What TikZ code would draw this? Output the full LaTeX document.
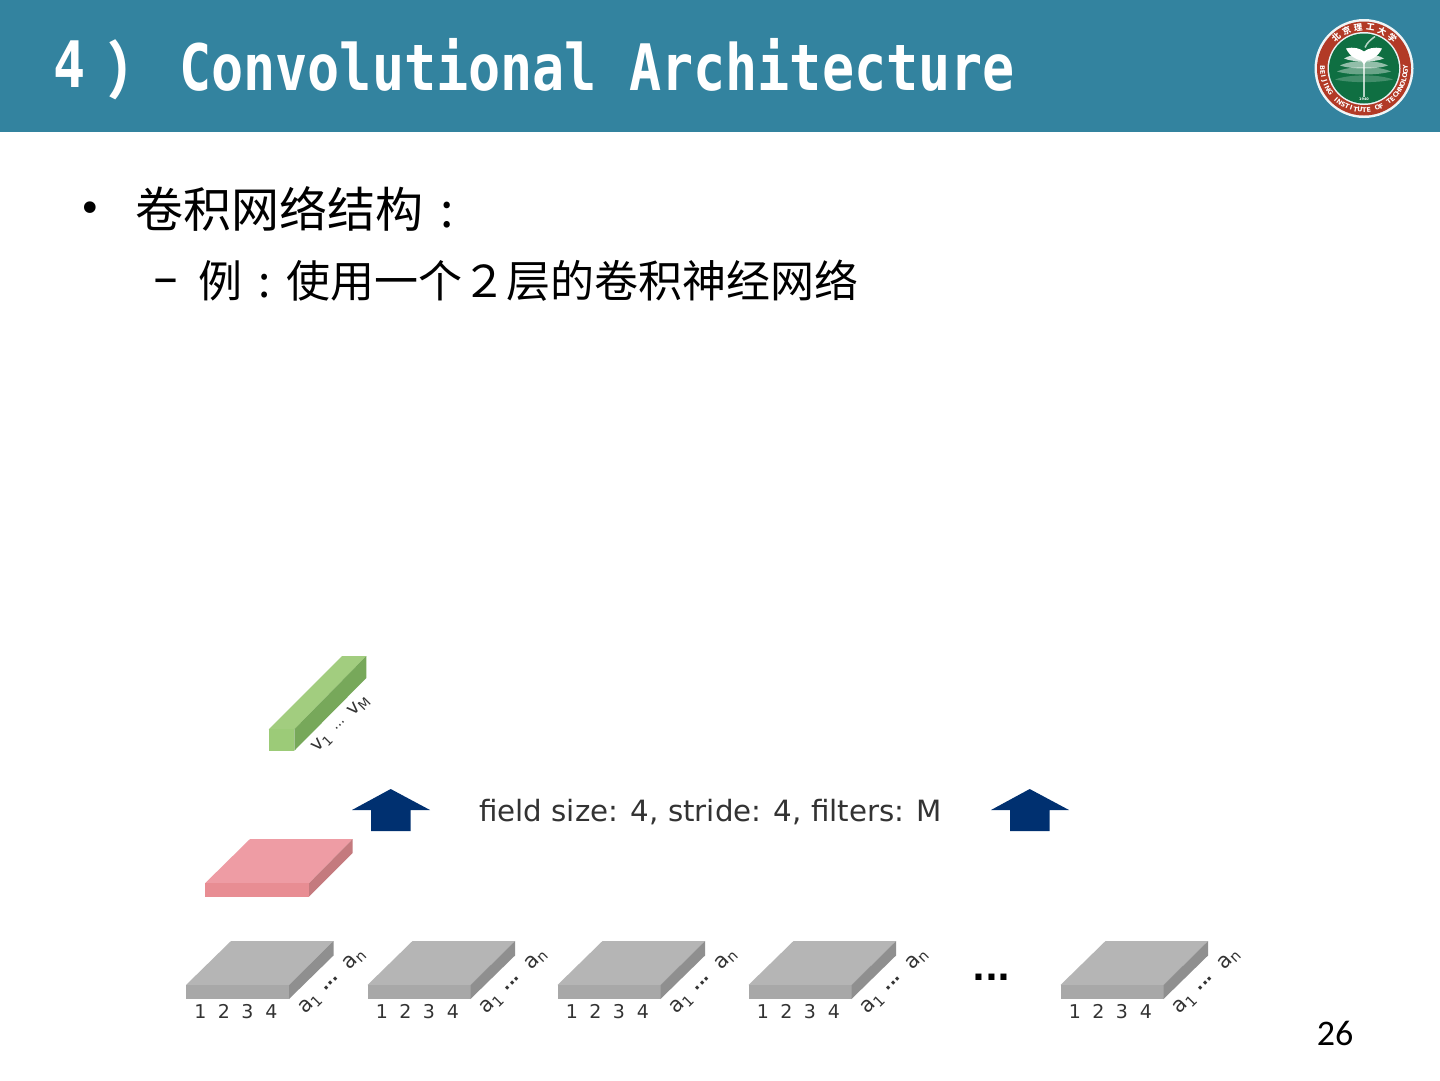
\documentclass[tikz,border=0pt]{standalone}
\usepackage{fontspec}
\setmainfont{DejaVu Sans}
\newfontfamily\cjksc{Noto Sans CJK SC}
\newfontfamily\monob{DejaVu Sans Mono}[BoldFont={DejaVu Sans Mono Bold}]
\newfontfamily\calib{Carlito}
\definecolor{bar}{HTML}{33839F}
\definecolor{navy}{HTML}{003070}
\definecolor{labelink}{HTML}{333333}
\definecolor{logored}{HTML}{B23A26}
\definecolor{logogreen}{HTML}{0F6F42}
\newcommand{\halfcolon}[1]{\makebox[#1]{\cjksc :}}
\tikzset{
 x=1pt,y=-1pt,
 lbl/.style={font=\fontsize{19}{19}\selectfont,text=labelink,inner sep=0pt},
 slant/.style={font=\fontsize{21}{21}\selectfont,text=labelink,inner sep=0pt,rotate=45},
 slantv/.style={font=\fontsize{19}{19}\selectfont,text=labelink,inner sep=0pt,rotate=45},
 slantdots/.style={font=\bfseries\fontsize{17}{17}\selectfont,text=labelink,inner sep=0pt,rotate=45},
 slantdotsv/.style={font=\fontsize{14}{14}\selectfont,text=labelink,inner sep=0pt,rotate=45},
 titletext/.style={inner sep=0pt,text=white,transform shape,yscale=1.2},
 upperarrow/.style={fill=navy,draw=none},
 layerblock/.pic={
  \fill[fill=gray!58!white] (0,0)--(45,-44)--(147.5,-44)--(103,0)--cycle;
  \fill[fill=gray!68!white] (0,0) rectangle (103,14);
  \fill[fill=gray!88!white] (103,0)--(147.5,-44)--(147.5,-29.5)--(103,14)--cycle;
  \node[lbl] (-n1) at (14.5,26.5) {1};
  \node[lbl] (-n2) at (38,26.5) {2};
  \node[lbl] (-n3) at (61.5,26.5) {3};
  \node[lbl] (-n4) at (85.5,26.5) {4};
  \node[slant] (-a1) at (124.5,19) {a\textsubscript{1}};
  \node[slantdots] (-dots) at (145,-1.5) {...};
  \node[slant] (-an) at (168.5,-25.5) {a\textsubscript{n}};
 }
}
\begin{document}
\begin{tikzpicture}
\useasboundingbox (0,0) rectangle (1440,1080);
\fill[white] (0,0) rectangle (1440,1080);
\fill[bar] (0,0) rectangle (1440,131.5);
\node[titletext,anchor=west,font=\monob\bfseries\fontsize{53.4}{53}\selectfont] (num) at (53,64.5) {4};
\node[titletext,font=\cjksc\bfseries\fontsize{52}{52}\selectfont] (paren) at (133,70) {）};
\node[titletext,anchor=west,font=\monob\bfseries\fontsize{53.4}{53}\selectfont] (title) at (179,64.5) {Convolutional Architecture};
% logo
\begin{scope}[shift={(1364,68.5)},x=1pt,y=1pt]
 \fill[white!92!bar] (0,0) circle (49.5);
 \fill[logored] (0,0) circle (47);
 \fill[white!90!bar] (0,0) circle (36.5);
 \fill[logogreen] (0,0) circle (35);
 \fill[white!70!logogreen] (-1.2,-28) rectangle (1.2,12);
 \foreach \w/\yy/\op/\t in {29/-11/22/3.5,27/-3/38/4,24/3/55/4,20/10/80/4}{
  \fill[white,opacity=0.\op] (-\w,\yy) .. controls (-\w/2,\yy-\t) and (\w/2,\yy-\t) .. (\w,\yy) .. controls (\w/2,\yy+\t+2) and (-\w/2,\yy+\t+2) .. cycle;
 }
 \fill[white] (-18,20) .. controls (-10,22) and (-4,20) .. (0,17) .. controls (4,20) and (10,22) .. (18,20) .. controls (14,12) and (8,9) .. (3,8) -- (0,4) -- (-3,8) .. controls (-8,9) and (-14,12) .. cycle;
 \draw[white!70!logogreen,line width=1.5pt] (1,21) .. controls (3,26) and (7,29) .. (11,32);
 \node[text=white,inner sep=0pt,font=\bfseries\fontsize{3.5}{3.5}\selectfont] (year) at (0,-31) {1940};
 \foreach \c [count=\i from 0] in {B,E,I,J,I,N,G,{ },I,N,S,T,I,T,U,T,E,{ },O,F,{ },T,E,C,H,N,O,L,O,G,Y}{
  \pgfmathsetmacro{\ang}{179+\i*6.1}
  \node[text=white,inner sep=0pt,rotate=\ang+90,font=\bfseries\fontsize{6.5}{6.5}\selectfont] at (\ang:41.5) {\c};
 }
 \foreach \c [count=\i from 0] in {北,京,理,工,大,学}{
  \pgfmathsetmacro{\ang}{132-\i*17}
  \node[text=white,inner sep=0pt,rotate=\ang-90,font=\cjksc\bfseries\fontsize{8.5}{8.5}\selectfont] at (\ang:41.5) {\c};
 }
\end{scope}
% body text
\node[inner sep=0pt,font=\fontsize{40}{40}\selectfont] (bullet) at (90,212) {•};
\node[inner sep=0pt,anchor=west,font=\cjksc\fontsize{48}{48}\selectfont] (l1) at (135,209) {卷积网络结构\halfcolon{48pt}};
\node[inner sep=0pt,font=\fontsize{50}{50}\selectfont] (dash) at (166,287) {–};
\node[inner sep=0pt,anchor=west,font=\cjksc\fontsize{44}{44}\selectfont] (l2) at (198,281) {例\halfcolon{44pt}使用一个２层的卷积神经网络};
% blocks
\pic (b1) at (186,985) {layerblock};
\pic (b2) at (367.5,985) {layerblock};
\pic (b3) at (557.5,985) {layerblock};
\pic (b4) at (748.5,985) {layerblock};
\pic (b5) at (1060.5,985) {layerblock};
\node[inner sep=0pt,font=\bfseries\fontsize{34}{34}\selectfont] (gap) at (991.5,977) {...};
% pink
\fill[fill={rgb,255:red,238;green,156;blue,164}] (205,883.3)--(250,839)--(352.7,839)--(309,883.3)--cycle;
\fill[fill={rgb,255:red,232;green,141;blue,147}] (205,883.3) rectangle (309,896.7);
\fill[fill={rgb,255:red,196;green,122;blue,126}] (309,883.3)--(352.7,839)--(352.7,853)--(309,896.7)--cycle;
% green
\fill[fill={rgb,255:red,162;green,205;blue,127}] (268.7,729.3)--(342,656)--(366.3,656)--(294.3,729.3)--cycle;
\fill[fill={rgb,255:red,156;green,203;blue,120}] (268.7,729.3) rectangle (294.3,750.7);
\fill[fill={rgb,255:red,119;green,168;blue,90}] (294.3,729.3)--(366.3,656)--(366.3,678)--(294.3,750.7)--cycle;
\node[slantv] (v1) at (322,743) {v\textsubscript{1}};
\node[slantdotsv] (vd) at (340,725) {...};
\node[slantv] (vm) at (359,706) {v\textsubscript{M}};
% arrows
\fill[upperarrow] (390.7,789)--(430,810)--(410.7,810)--(410.7,831)--(371,831)--(371,810)--(352,810)--cycle;
\fill[upperarrow] (1029.7,789)--(1069,810)--(1049.7,810)--(1049.7,831)--(1010,831)--(1010,810)--(991,810)--cycle;
\node[inner sep=0pt,anchor=west,text=labelink,font=\fontsize{29.3}{29}\selectfont] (cap) at (479,812) {field size: 4, stride: 4, filters: M};
\node[inner sep=0pt,font=\calib\fontsize{36}{36}\selectfont] (page) at (1335,1033) {26};
\end{tikzpicture}
\end{document}
